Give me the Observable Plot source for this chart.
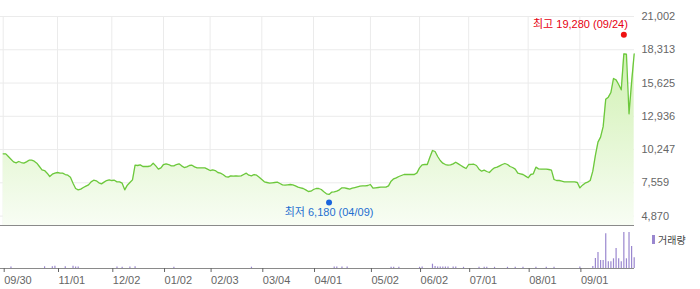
<!DOCTYPE html>
<html>
<head>
<meta charset="utf-8">
<script src="https://cdn.jsdelivr.net/npm/d3@7"></script>
<script src="https://cdn.jsdelivr.net/npm/@observablehq/plot@0.6"></script>
<style>
  body { margin: 0; background: #fff; }
  #wrap { position: relative; width: 700px; height: 289px; overflow: hidden; }
  #wrap svg { display: block; }
  #legend { position: absolute; left: 652px; top: 232px; font: 10px 'Liberation Sans', 'Noto Sans CJK KR', sans-serif; color: #444; display: flex; align-items: center; }
  #legend i { display: inline-block; width: 3px; height: 9px; background: #9a87cf; margin-right: 3px; }
</style>
</head>
<body>
<div id="wrap"><div id="legend"><i></i><span id="legendText"></span></div></div>
<script>
// ---- data (trading-day index 0 = 09/30) ----
const tickDays = [0, 21, 42, 62, 80, 100, 120, 142, 161, 180, 203, 223];
const tickLabels = ["09/30", "11/01", "12/02", "01/02", "02/03", "03/04", "04/01", "05/02", "06/02", "07/01", "08/01", "09/01"];
const priceTicks = [4870, 7559, 10247, 12936, 15625, 18313, 21002];

const closes = [
  9902, 9900, 9687, 9471, 9256, 9175, 9283, 9202, 9148, 9256,
  9390, 9390, 9310, 9148, 8879, 8609, 8555, 8340, 8070, 8259,
  8340, 8394, 8340, 8340, 8232, 8178, 8017, 7532, 7101, 6993,
  7047, 7181, 7289, 7397, 7640, 7774, 7720, 7559, 7478, 7613,
  7747, 7801, 7747, 7774, 7640, 7640, 7532, 6993, 7370, 7586,
  7801, 8986, 8960, 9013, 8879, 8879, 8879, 8933, 9148, 8933,
  8663, 8771, 9040, 9094, 9040, 8933, 8933, 9040, 9094, 8933,
  8798, 8852, 8960, 8986, 8852, 8771, 8771, 8771, 8771, 8663,
  8555, 8609, 8555, 8394, 8340, 8232, 8070, 8017, 8124, 8097,
  8124, 8097, 8124, 8232, 8340, 8178, 8124, 8232, 8178, 8017,
  7828, 7640, 7586, 7532, 7559, 7586, 7613, 7505, 7397, 7370,
  7397, 7424, 7397, 7316, 7208, 7155, 7101, 6993, 6858, 6885,
  7020, 7101, 7101, 7020, 6831, 6670, 6620, 6804, 6831, 6885,
  6993, 7155, 7155, 7101, 7047, 7128, 7181, 7235, 7289, 7316,
  7316, 7343, 7424, 7128, 7155, 7181, 7208, 7208, 7208, 7316,
  7693, 7882, 7963, 8070, 8151, 8232, 8232, 8232, 8232, 8232,
  8367, 8771, 9013, 9040, 9040, 9633, 10172, 10091, 9687, 9364,
  9148, 9040, 8986, 9013, 9094, 9229, 9094, 8960, 8825, 8717,
  9040, 9050, 9060, 8960, 8660, 8502, 8583, 8475, 8395, 8610,
  8772, 8826, 8933, 9041, 9122, 9041, 8880, 8799, 8664, 8341,
  8287, 8233, 8098, 7964, 8233, 8287, 8826, 8691, 8664, 8664,
  8664, 8637, 8583, 7829, 7748, 7748, 7694, 7640, 7640, 7640,
  7640, 7640, 7586, 7150, 7370, 7532, 7613, 7747, 8500, 9770,
  10850, 11250, 12100, 14320, 14482, 14860, 15991, 15883, 15506, 15075,
  17986, 17950, 13135, 15695, 17986
];

const volDays = [3, 16, 19, 20, 24, 27, 28, 29, 44, 46, 49, 51, 66, 96, 128, 129, 131, 133,
  150, 151, 153, 161, 162, 166, 167, 168, 169, 170, 171, 172, 174, 175, 178, 184, 186, 187,
  190, 195, 198, 201, 206, 210, 213, 223,
  228, 229, 230, 231, 232, 233, 234, 235, 236, 237, 238, 239, 240, 241, 242, 243, 244];
const volumes = [150, 170, 170, 230, 170, 230, 150, 150, 150, 130, 150, 170, 130, 130, 150, 150, 150, 150,
  120, 120, 120, 120, 150, 430, 200, 150, 150, 150, 150, 150, 150, 150, 120, 120, 120, 120,
  120, 120, 120, 120, 120, 120, 120, 150,
  200, 1000, 1600, 800, 800, 3470, 670, 670, 970, 2000, 970, 670, 3600, 970, 3600, 2200, 1070];

const highDay = 240, highPrice = 19280, highLabel = "최고 19,280 (09/24)";
const lowDay = 126, lowPrice = 6180, lowLabel = "최저 6,180 (04/09)";
const volumeLabel = "거래량";

// ---- tables ----
const priceData = closes.map((v, i) => ({day: i, close: v}));
const volData = volDays.map((d, i) => ({day: d, vol: volumes[i]}));
const labelByDay = new Map(tickDays.map((d, i) => [d, tickLabels[i]]));
const fontFamily = "'Liberation Sans', 'Noto Sans CJK KR', sans-serif";
const xDomain = [-1.044, 244.12];
const yMin = 4111, yMax = 22295;

const price = Plot.plot({
  width: 700, height: 226,
  marginLeft: 0, marginRight: 66, marginTop: 0, marginBottom: 1,
  style: {fontFamily, fontSize: "11px", background: "white"},
  x: {domain: xDomain, axis: null},
  y: {domain: [yMin, yMax]},
  marks: [
    Plot.ruleY(priceTicks, {stroke: "#ebebeb"}),
    Plot.ruleX(tickDays, {x: d => d, y1: yMin, y2: priceTicks[priceTicks.length - 1], stroke: "#ebebeb"}),
    Plot.areaY(priceData, {x: "day", y1: yMin, y2: "close", fill: "url(#priceFill)"}),
    Plot.lineY(priceData, {x: "day", y: "close", stroke: "#6cc83c", strokeWidth: 1.3}),
    Plot.ruleY([yMin], {stroke: "#8a8a8a"}),
    Plot.axisY(priceTicks, {anchor: "right", tickSize: 0, tickPadding: 7, tickFormat: d3.format(","), fontSize: 11, fill: "#666", label: null}),
    Plot.dot([{day: highDay, v: highPrice}], {x: "day", y: "v", r: 3, fill: "#ee1111", stroke: null, dy: -3}),
    Plot.text([{day: highDay, v: highPrice}], {x: "day", y: "v", text: () => highLabel, dy: -13, dx: 4, textAnchor: "end", fill: "#e60012", fontSize: 11}),
    Plot.dot([{day: lowDay, v: lowPrice}], {x: "day", y: "v", r: 3, fill: "#1a66dd", stroke: null, dy: 2.6}),
    Plot.text([{day: lowDay, v: lowPrice}], {x: "day", y: "v", text: () => lowLabel, dy: 12.3, textAnchor: "middle", fill: "#1f6fd0", fontSize: 11})
  ]
});

// gradient fill definition
const ns = "http://www.w3.org/2000/svg";
const defs = document.createElementNS(ns, "defs");
const grad = document.createElementNS(ns, "linearGradient");
grad.setAttribute("id", "priceFill");
grad.setAttribute("gradientUnits", "userSpaceOnUse");
grad.setAttribute("x1", "0"); grad.setAttribute("x2", "0");
grad.setAttribute("y1", "16"); grad.setAttribute("y2", "225");
[["0", "#c8eea4"], ["1", "#f8fdf4"]].forEach(([o, c]) => {
  const s = document.createElementNS(ns, "stop");
  s.setAttribute("offset", o); s.setAttribute("stop-color", c);
  grad.appendChild(s);
});
defs.appendChild(grad);
price.insertBefore(defs, price.firstChild);

const volume = Plot.plot({
  width: 700, height: 63,
  marginLeft: 0, marginRight: 66, marginTop: 0, marginBottom: 21,
  style: {fontFamily, fontSize: "11px", background: "white"},
  x: {domain: xDomain},
  y: {domain: [0, 4200], axis: null},
  marks: [
    Plot.ruleX(volData, {x: "day", y1: 0, y2: "vol", stroke: "#9a87cf", strokeWidth: 1.2}),
    Plot.ruleY([0], {stroke: "#8a8a8a"}),
    Plot.axisX(tickDays, {anchor: "bottom", tickSize: 4, tickPadding: 4, tickFormat: d => labelByDay.get(d), textAnchor: "start", dx: 1, fontSize: 11, color: "#666", label: null})
  ]
});

const wrap = document.getElementById("wrap");
wrap.insertBefore(volume, wrap.firstChild);
wrap.insertBefore(price, volume);
document.getElementById("legendText").textContent = volumeLabel;
</script>
</body>
</html>
